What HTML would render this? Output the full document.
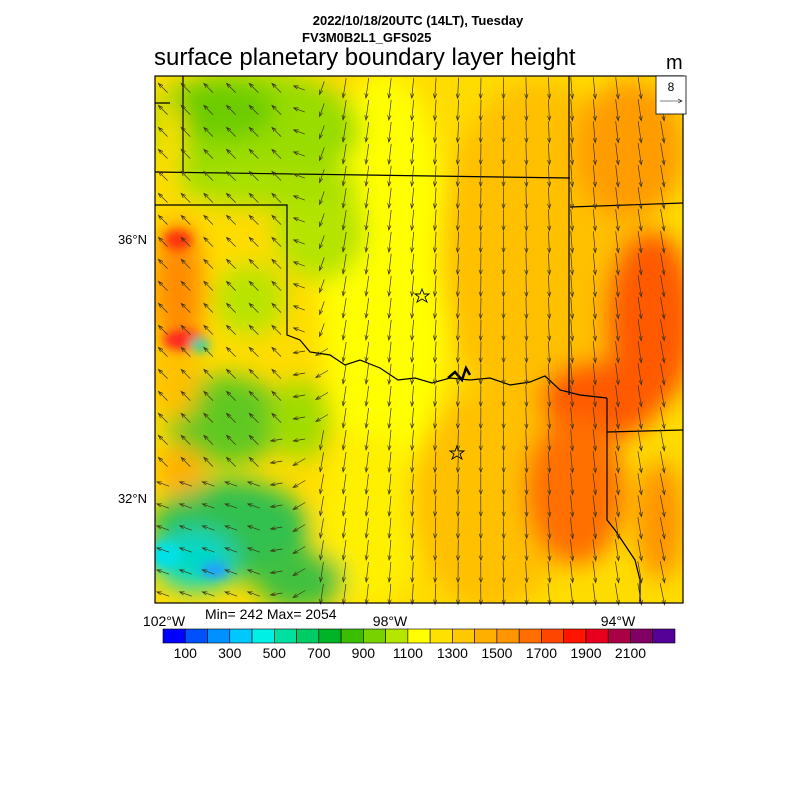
<!DOCTYPE html>
<html><head><meta charset="utf-8"><style>
body{margin:0;background:#fff;width:800px;height:800px;overflow:hidden;font-family:"Liberation Sans",sans-serif}
svg{position:absolute;left:0;top:0}
</style></head><body>
<svg id="s" width="800" height="800" xmlns="http://www.w3.org/2000/svg">
<defs>
<filter id="b" x="-50%" y="-50%" width="200%" height="200%"><feGaussianBlur stdDeviation="12"/></filter>
<filter id="b2" x="-50%" y="-50%" width="200%" height="200%"><feGaussianBlur stdDeviation="5"/></filter>
<clipPath id="c"><rect x="155" y="76" width="528" height="527"/></clipPath>
</defs>
<text x="418" y="25" font-size="13" font-weight="bold" text-anchor="middle">2022/10/18/20UTC (14LT), Tuesday</text>
<text x="302" y="42" font-size="13" font-weight="bold">FV3M0B2L1_GFS025</text>
<text x="154" y="65" font-size="24">surface planetary boundary layer height</text>
<text x="666" y="69" font-size="20">m</text>
<g clip-path="url(#c)">
<rect x="155" y="76" width="528" height="527" fill="#ffdc00"/>
<g filter="url(#b)">
<ellipse cx="385" cy="280" rx="65" ry="210" fill="#ffff00"/>
<ellipse cx="370" cy="520" rx="50" ry="90" fill="#fff000"/>
<ellipse cx="540" cy="250" rx="100" ry="170" fill="#ffc000"/>
<ellipse cx="490" cy="500" rx="80" ry="110" fill="#ffc000"/>
<ellipse cx="630" cy="150" rx="55" ry="70" fill="#ff9c00"/>
<ellipse cx="650" cy="320" rx="45" ry="90" fill="#ff5a00"/>
<ellipse cx="600" cy="400" rx="60" ry="40" fill="#ff5a00"/>
<ellipse cx="575" cy="490" rx="50" ry="75" fill="#ff7000"/>
<ellipse cx="660" cy="520" rx="25" ry="60" fill="#ff9400"/>
<ellipse cx="250" cy="130" rx="110" ry="60" fill="#98dc00"/>
<ellipse cx="220" cy="110" rx="55" ry="30" fill="#6ccc00"/>
<ellipse cx="320" cy="230" rx="45" ry="50" fill="#b4e400"/>
<ellipse cx="270" cy="185" rx="90" ry="22" fill="#a8e000"/>
<ellipse cx="170" cy="140" rx="14" ry="40" fill="#ffe000"/>
<ellipse cx="178" cy="290" rx="25" ry="70" fill="#ff8a00"/>
<ellipse cx="250" cy="300" rx="35" ry="35" fill="#b8e400"/>
<ellipse cx="225" cy="420" rx="60" ry="45" fill="#60c820"/>
<ellipse cx="175" cy="380" rx="25" ry="40" fill="#ffc000"/>
<ellipse cx="300" cy="420" rx="30" ry="40" fill="#a0dc00"/>
<ellipse cx="230" cy="530" rx="80" ry="50" fill="#30c050"/>
<ellipse cx="195" cy="560" rx="40" ry="30" fill="#00d8c8"/>
<ellipse cx="300" cy="580" rx="45" ry="30" fill="#40c040"/>
<ellipse cx="180" cy="470" rx="25" ry="25" fill="#ffb000"/>
</g>
<g filter="url(#b2)">
<ellipse cx="178" cy="240" rx="14" ry="10" fill="#ff3010"/>
<ellipse cx="185" cy="340" rx="22" ry="10" fill="#ff2020"/>
<ellipse cx="200" cy="345" rx="10" ry="8" fill="#30d0a0"/>
<ellipse cx="165" cy="555" rx="16" ry="14" fill="#00e0e8"/>
<ellipse cx="215" cy="570" rx="14" ry="8" fill="#20a0ff"/>
</g>
</g>
<g fill="none" stroke="#000" stroke-width="1.2">
<path d="M155 103H170M183 76V172M155 172L570 178M155 205H287V335L300 340 310 352 330 355 345 365 360 360 380 368 398 380 415 378 432 383 450 378 470 380 490 378 510 385 530 382 545 376 560 390 580 395 607 398M569 76V395M570 207L683 203M607 398V520L615 530 625 545 635 560 640 580 640 603M607 432L683 430"/>
<path d="M448 378 455 372 462 380 466 368 470 375" stroke-width="2.5"/>
</g>
<g fill="none" stroke="#000" stroke-width="0.9">
<path d="M422 289 424 294 429 294 425 297 427 302 422 299 417 302 419 297 415 294 420 294Z"/>
<path d="M457 446 459 451 464 451 460 454 462 459 457 456 452 459 454 454 450 451 455 451Z"/>
</g>
<g id="arr" stroke="#3a3410" stroke-width="0.7" fill="none"></g>
<rect x="155" y="76" width="528" height="527" fill="none" stroke="#000" stroke-width="1.2"/>
<rect x="656" y="76" width="30" height="38" fill="#fff" stroke="#000" stroke-width="0.8"/>
<text x="671" y="91" font-size="12" text-anchor="middle">8</text>
<path d="M660 101H682M678 99L682 101 678 103" stroke="#000" stroke-width="0.6" fill="none"/>
<text x="147" y="244" font-size="13" text-anchor="end">36°N</text>
<text x="147" y="503" font-size="13" text-anchor="end">32°N</text>
<text x="164" y="626" font-size="14" text-anchor="middle">102°W</text>
<text x="390" y="626" font-size="14" text-anchor="middle">98°W</text>
<text x="618" y="626" font-size="14" text-anchor="middle">94°W</text>
<text x="205" y="619" font-size="14">Min= 242 Max= 2054</text>
<g id="cb"></g>
</svg>
<script>
var cols=["#0000ff","#0050ff","#0090ff","#00c8ff","#00f0e6","#00e0a0","#00cc66","#00b428","#3cbe00","#78d200","#b4e600","#ffff00","#ffe100","#ffc800","#ffaf00","#ff9600","#ff6e00","#ff4600","#ff1400","#e6001e","#aa0046","#820064","#550096"];
var cb=document.getElementById('cb'),h='';
var x0=163,w=(675-163)/23;
for(var i=0;i<23;i++){h+='<rect x="'+(x0+i*w)+'" y="629" width="'+w+'" height="14" fill="'+cols[i]+'" stroke="#000" stroke-width="0.6"/>';}
var labs=["100","300","500","700","900","1100","1300","1500","1700","1900","2100"];
for(var i=0;i<11;i++){h+='<text x="'+(x0+(2*i+1)*w)+'" y="658" font-size="14" text-anchor="middle">'+labs[i]+'</text>';}
cb.innerHTML=h;
var a='';
for(var y=88;y<600;y+=22){for(var x=163;x<683;x+=22.7){
 var t=(x-155)/528;
 var bx = y<300 ? 335 : (y<450 ? 335-(y-300)*0.1 : 320-(y-450)*0.13);
 var ang,len;
 if(x<bx-45){ang=-135+ (y>480?-25:0);len=13;}
 else if(x<bx-20){ang= y>350?170:-160;len=12;}
 else if(x<bx){ang= y>350?150:110;len=14;}
 else {ang=100-(x-bx)/300*18;len=19+t*3;}
 var r=ang*Math.PI/180, dx=Math.cos(r)*len, dy=Math.sin(r)*len;
 var x1=x-dx/2,y1=y-dy/2,x2=x+dx/2,y2=y+dy/2;
 var hl=5,a1=r+Math.PI-0.35,a2=r+Math.PI+0.35;
 a+='<path d="M'+x1.toFixed(1)+' '+y1.toFixed(1)+'L'+x2.toFixed(1)+' '+y2.toFixed(1)+'M'+(x2+Math.cos(a1)*hl).toFixed(1)+' '+(y2+Math.sin(a1)*hl).toFixed(1)+'L'+x2.toFixed(1)+' '+y2.toFixed(1)+'L'+(x2+Math.cos(a2)*hl).toFixed(1)+' '+(y2+Math.sin(a2)*hl).toFixed(1)+'"/>';
}}
document.getElementById('arr').innerHTML=a;
</script>
</body></html>
